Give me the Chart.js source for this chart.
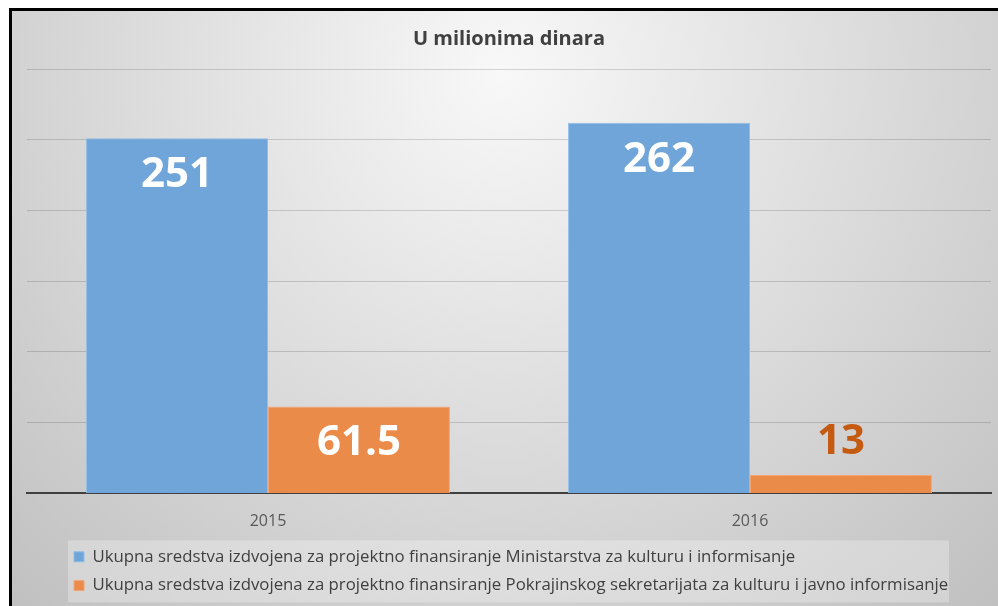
<!DOCTYPE html>
<html>
<head>
<meta charset="utf-8">
<script src="https://cdn.jsdelivr.net/npm/chart.js@4"></script>
<style>
  html, body { margin: 0; padding: 0; overflow: hidden; background: #fff; }
  #frame { position: absolute; left: 9px; top: 8px; border: 3px solid #000; width: 990px; height: 600px; }
  canvas { display: block; }
</style>
</head>
<body>
<div id="frame"><canvas id="chart" width="990" height="600"></canvas></div>
<script>
// ---- data ----
const years = ["2015", "2016"];
const ministry = [251, 262];
const province = [61.5, 13];
const seriesNames = [
  "Ukupna sredstva izdvojena za projektno finansiranje Ministarstva za kulturu i informisanje",
  "Ukupna sredstva izdvojena za projektno finansiranje Pokrajinskog sekretarijata za kulturu i javno informisanje",
];
const chartTitle = "U milionima dinara";

const FONT = "'Open Sans', 'Noto Sans', sans-serif";

// grey radial background + lighter strip behind the legend
const backdrop = {
  id: "backdrop",
  beforeDraw(chart) {
    const { ctx, width, height } = chart;
    const g = ctx.createRadialGradient(490, 60, 0, 490, 60, 740);
    g.addColorStop(0, "#f8f8f8");
    g.addColorStop(1, "#bfbfbf");
    ctx.save();
    ctx.fillStyle = g;
    ctx.fillRect(0, 0, width, height);
    const lg = chart.legend;
    ctx.fillStyle = "rgba(255,255,255,0.28)";
    ctx.fillRect(lg.left + 6, lg.top + 4, 881, 62);
    ctx.restore();
  },
  // legend rows are left-aligned inside a box, not against the chart edge
  afterLayout(chart) {
    chart.legend.left = 50;
  },
};

// value labels: white inside tall bars, orange above short ones
const valueLabels = {
  id: "valueLabels",
  afterDatasetsDraw(chart) {
    const { ctx } = chart;
    ctx.save();
    ctx.font = "bold 42px " + FONT;
    ctx.textAlign = "center";
    ctx.textBaseline = "middle";
    chart.data.datasets.forEach((ds, di) => {
      chart.getDatasetMeta(di).data.forEach((bar, i) => {
        const v = ds.data[i];
        const inside = bar.base - bar.y > 60;
        ctx.fillStyle = inside ? "#ffffff" : "#c55a11";
        ctx.fillText(String(v), bar.x, inside ? bar.y + 37 : bar.y - 33);
      });
    });
    ctx.restore();
  },
};

new Chart(document.getElementById("chart"), {
  type: "bar",
  data: {
    labels: years,
    datasets: [
      {
        label: seriesNames[0],
        data: ministry,
        backgroundColor: "#6fa5d8",
        borderColor: "#8fbde8",
        borderWidth: 1,
        categoryPercentage: 0.755,
        barPercentage: 1,
      },
      {
        label: seriesNames[1],
        data: province,
        backgroundColor: "#ea8b4a",
        borderColor: "#f3a674",
        borderWidth: 1,
        categoryPercentage: 0.755,
        barPercentage: 1,
      },
    ],
  },
  options: {
    responsive: false,
    animation: false,
    events: [],
    layout: { padding: { left: 15, right: 11, top: 0, bottom: 7 } },
    plugins: {
      title: {
        display: true,
        text: chartTitle,
        color: "#404040",
        font: { family: FONT, size: 20, weight: "bold" },
        padding: { top: 16, bottom: 18 },
      },
      legend: {
        position: "bottom",
        align: "start",
        labels: {
          color: "#404040",
          font: { family: FONT, size: 16.8 },
          boxWidth: 10,
          boxHeight: 10,
          padding: 12,
        },
      },
      tooltip: { enabled: false },
    },
    scales: {
      x: {
        grid: { display: false },
        border: { display: true, color: "#3f3f3f", width: 2 },
        ticks: { color: "#595959", font: { family: FONT, size: 16 }, padding: 10 },
        afterFit: s => { s.height = 43; },
      },
      y: {
        min: 0,
        max: 300,
        ticks: { display: false, stepSize: 50 },
        grid: { color: "rgba(0,0,0,0.15)", drawTicks: false },
        border: { display: false },
        afterFit: s => { s.width = 0; },
      },
    },
  },
  plugins: [backdrop, valueLabels],
});
</script>
</body>
</html>
